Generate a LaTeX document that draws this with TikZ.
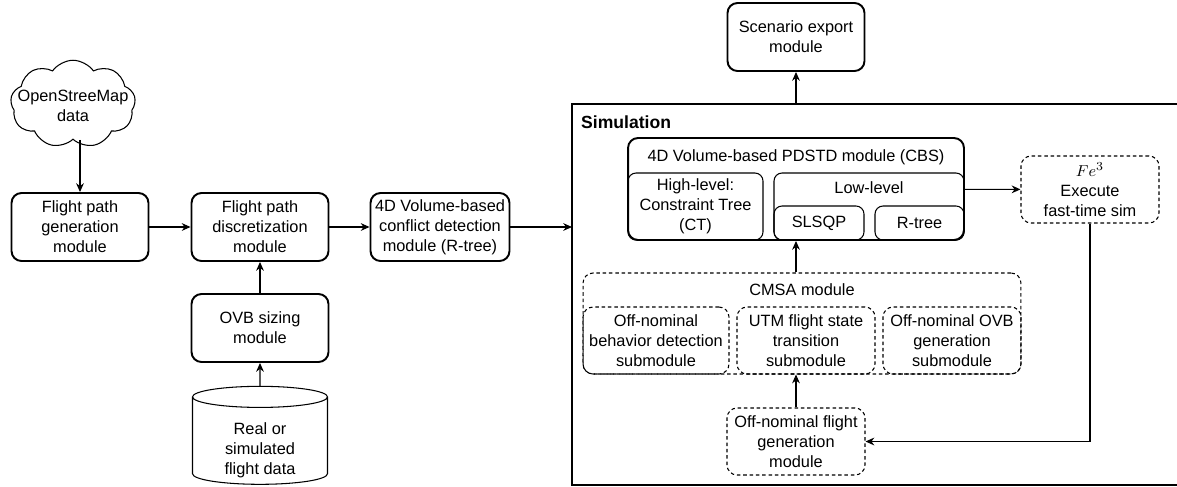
\documentclass[tikz,border=0pt]{standalone}
\usepackage{fontspec}
\setmainfont{Liberation Sans}
\usetikzlibrary{shapes.geometric,shapes.symbols,arrows.meta}

\tikzset{
  module/.style={draw, line width=1.1pt, rounded corners=0.2cm, align=center,
                 minimum width=2.74cm, minimum height=1.36cm, inner sep=1pt},
  part/.style={draw, line width=0.6pt, rounded corners=0.16cm, align=center, inner sep=1pt},
  dmodule/.style={draw, line width=0.6pt, dash pattern=on 2pt off 1.6pt,
                  rounded corners=0.2cm, align=center, inner sep=1pt,
                  minimum width=2.76cm, minimum height=1.34cm},
  link/.style={->, line width=0.6pt},
}

\begin{document}
\begin{tikzpicture}[x=0.02cm, y=-0.02cm, >={Stealth[length=5pt,width=4.4pt]},
                    font=\fontsize{9.3}{11.3}\selectfont]
                \useasboundingbox (0,0) rectangle (1177,487);

                % left part
                \node (osm) [cloud, draw, line width=0.6pt, cloud puffs=9, cloud puff arc=110,
                             aspect=1.9, inner sep=0pt, minimum width=2.5cm, minimum height=1.75cm]
                             at (73,104) {};
                \node (osmtext) [align=center] at (73,106) {OpenStreeMap\\data};
                \node (gen) [module] at (80,227) {Flight path\\generation\\module};
                \node (disc) [module] at (260,227) {Flight path\\discretization\\module};
                \node (ovb) [module] at (260,328) {OVB sizing\\module};
                \node (data) [cylinder, draw, line width=0.6pt, shape border rotate=90, aspect=1.8,
                              minimum width=2.7cm, minimum height=1.96cm, align=center] at (260,443) {};
                \node (datatext) [align=center] at (260,450) {Real or\\simulated\\flight data};
                \node (cd) [module, minimum width=2.78cm] at (440,227) {4D Volume-based\\conflict detection\\module (R-tree)};

                % simulation frame
                \draw [line width=0.6pt] (1177,104) -| (572,485) -- (1177,485);
                \coordinate (simin) at (572,227);
                \coordinate (simtop) at (796,104);
                \node (simlabel) [anchor=west, font=\fontsize{10}{12}\selectfont\bfseries] at (575,122) {Simulation};
                \node (export) [module] at (796,37) {Scenario export\\module};

                % CBS
                \node (cbs) [module, minimum width=6.72cm, minimum height=2.04cm] at (796,189) {};
                \node (cbstitle) at (796,157) {4D Volume-based PDSTD module (CBS)};
                \node (high) [part, minimum width=2.7cm, minimum height=1.34cm] at (695.5,206.5) {High-level:\\Constraint Tree\\(CT)};
                \node (low) [part, minimum width=3.8cm, minimum height=1.34cm] at (869,206.5) {};
                \node (lowtitle) at (869,188) {Low-level};
                \node (slsqp) [part, minimum width=1.8cm, minimum height=0.68cm] at (819,223) {SLSQP};
                \node (rtree) [part, minimum width=1.78cm, minimum height=0.68cm] at (919.5,223) {R-tree};

                \node (fe) [dmodule] at (1090,189.5) {$Fe^3$\\Execute\\fast-time sim};

                % CMSA
                \node (cmsa) [dmodule, minimum width=8.76cm, minimum height=2.02cm] at (802,323.5) {};
                \node (cmsatitle) at (802,290) {CMSA module};
                \node (onb) [dmodule, minimum width=2.92cm] at (656,340.5) {Off-nominal\\behavior detection\\submodule};
                \node (utm) [dmodule] at (806,340.5) {UTM flight state\\transition\\submodule};
                \node (ono) [dmodule] at (952,340.5) {Off-nominal OVB\\generation\\submodule};
                \node (onf) [dmodule] at (796,441.5) {Off-nominal flight\\generation\\module};

                \path [link] (gen.north |- osm.south) edge (gen.north)
                             (gen) edge (disc)
                             (ovb) edge (disc)
                             (data.north) edge (ovb)
                             (disc) edge (cd)
                             (cd) edge (simin)
                             (simtop) edge (export)
                             (cmsa.north -| onf.north) edge (cbs.south -| onf.north)
                             (onf) edge (onf.north |- utm.south)
                             (cbs) edge (fe)
                ;
                \draw [link] (fe.south) |- (onf.east);
            \end{tikzpicture}
\end{document}
